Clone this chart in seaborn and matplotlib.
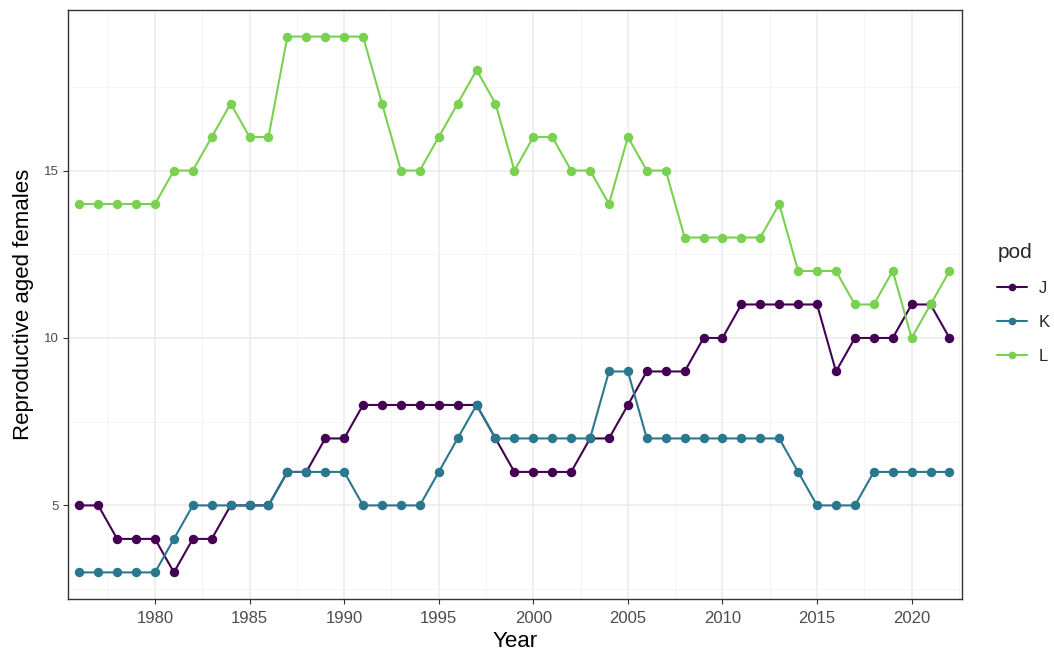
import numpy as np
import pandas as pd
import matplotlib
matplotlib.use("Agg")
import matplotlib.pyplot as plt
from matplotlib.ticker import MultipleLocator
from matplotlib.lines import Line2D
import seaborn as sns

# Reproductive aged females per pod, 1976-2022
years = list(range(1976, 2023))
pod_j = [5, 5, 4, 4, 4, 3, 4, 4, 5, 5, 5, 6, 6, 7, 7, 8, 8, 8, 8, 8, 8, 8,
         7, 6, 6, 6, 6, 7, 7, 8, 9, 9, 9, 10, 10, 11, 11, 11, 11, 11, 9, 10,
         10, 10, 11, 11, 10]
pod_k = [3, 3, 3, 3, 3, 4, 5, 5, 5, 5, 5, 6, 6, 6, 6, 5, 5, 5, 5, 6, 7, 8,
         7, 7, 7, 7, 7, 7, 9, 9, 7, 7, 7, 7, 7, 7, 7, 7, 6, 5, 5, 5,
         6, 6, 6, 6, 6]
pod_l = [14, 14, 14, 14, 14, 15, 15, 16, 17, 16, 16, 19, 19, 19, 19, 19, 17,
         15, 15, 16, 17, 18, 17, 15, 16, 16, 15, 15, 14, 16, 15, 15, 13, 13,
         13, 13, 13, 14, 12, 12, 12, 11, 11, 12, 10, 11, 12]
pods = ["J", "K", "L"]
pod_colors = ["#440154", "#2A788E", "#7AD151"]

df = pd.concat([
    pd.DataFrame({"Year": years, "females": vals, "pod": name})
    for name, vals in zip(pods, [pod_j, pod_k, pod_l])
], ignore_index=True)

sns.set_theme(style="white")
plt.rcParams["font.family"] = ["Liberation Sans", "DejaVu Sans"]

fig = plt.figure(figsize=(10.54, 6.52), dpi=100)
ax = fig.add_axes([0.0645, 0.081, 0.848, 0.904])

sns.lineplot(data=df, x="Year", y="females", hue="pod", hue_order=pods,
             palette=pod_colors, marker="o", markersize=6.8,
             markeredgewidth=0, linewidth=1.5, legend=False, ax=ax)

ax.set_xlim(1975.4, 2022.65)
ax.set_ylim(2.2, 19.8)
ax.xaxis.set_major_locator(MultipleLocator(5))
ax.xaxis.set_minor_locator(MultipleLocator(2.5))
ax.yaxis.set_major_locator(MultipleLocator(5))
ax.yaxis.set_minor_locator(MultipleLocator(2.5))
ax.set_xticks([1980, 1985, 1990, 1995, 2000, 2005, 2010, 2015, 2020])

ax.grid(True, which="major", color="#EBEBEB", linewidth=1.1, zorder=0)
ax.grid(True, which="minor", color="#F2F2F2", linewidth=0.6, zorder=0)
ax.set_axisbelow(True)
for sp in ax.spines.values():
    sp.set_color("#333333")
    sp.set_linewidth(1.0)

ax.tick_params(axis="both", which="major", length=3.8, width=0.8,
               color="#333333", labelcolor="#4D4D4D",
               bottom=True, left=True, pad=3)
ax.tick_params(axis="x", which="major", labelsize=12, pad=4.5)
ax.tick_params(axis="y", which="major", labelsize=9.5)
ax.tick_params(axis="both", which="minor", length=0)

ax.set_xlabel("Year", fontsize=16, color="black", labelpad=4)
ax.set_ylabel("Reproductive aged females", fontsize=16, color="black",
              labelpad=7)

handles = [Line2D([0], [0], color=c, marker="o", markersize=5.5,
                  markeredgewidth=0, linewidth=1.5) for c in pod_colors]
leg = fig.legend(handles, pods, title="pod", loc="upper left",
                 bbox_to_anchor=(0.932, 0.651), frameon=False,
                 fontsize=12, title_fontsize=15, handlelength=1.8,
                 labelspacing=1.15, handletextpad=0.7)
leg._legend_box.align = "left"

fig.savefig("out.png", dpi=100)
